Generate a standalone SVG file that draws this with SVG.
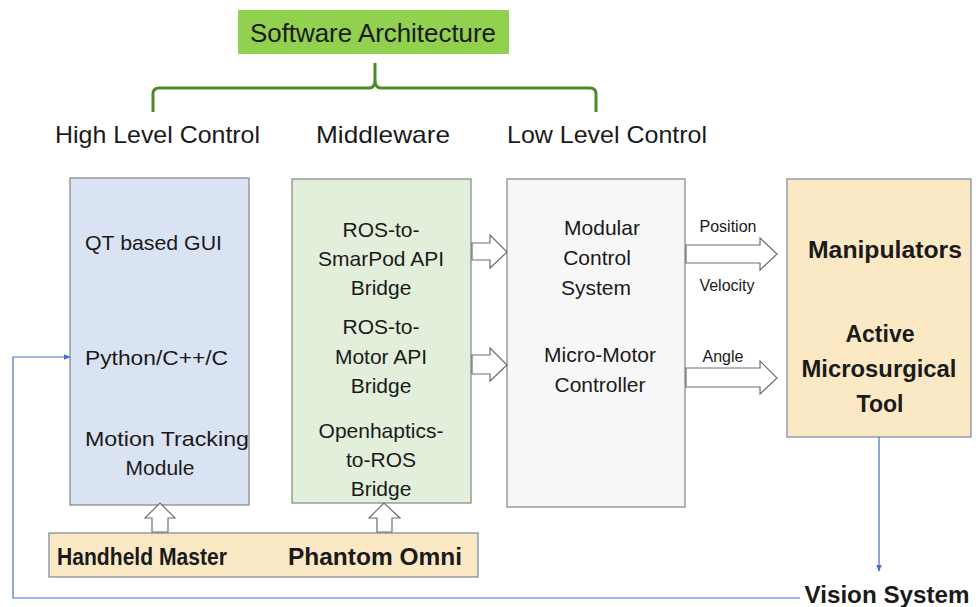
<svg xmlns="http://www.w3.org/2000/svg" width="979" height="607" viewBox="0 0 979 607">
  <style>
    text { font-family: "Liberation Sans", Arial, sans-serif; fill: #1a1a1a; }
    .hdr { font-size: 24px; }
    .lbl { font-size: 21px; text-anchor: middle; }
    .lbl-l { font-size: 21px; }
    .sig { font-size: 16px; text-anchor: middle; }
    .bold { font-size: 23px; font-weight: bold; text-anchor: middle; }
    .box { stroke: #8c8c8c; stroke-width: 1.3; }
    .blk { fill: #ffffff; stroke: #6e6e6e; stroke-width: 1.2; stroke-linejoin: miter; }
    .fb { fill: none; stroke: #4472c4; stroke-width: 1.2; }
  </style>
  <defs>
    <marker id="tip" viewBox="0 0 10 10" refX="9" refY="5" markerWidth="6" markerHeight="6" orient="auto">
      <path d="M0,1 L10,5 L0,9 z" fill="#4472c4"/>
    </marker>
  </defs>

  <rect width="979" height="607" fill="#ffffff"/>

  <!-- title and brace -->
  <g id="title">
    <rect x="238" y="10" width="271" height="44" fill="#92d050"/>
    <text x="373" y="42" font-size="25" text-anchor="middle" textLength="246" lengthAdjust="spacingAndGlyphs">Software Architecture</text>
  </g>
  <path d="M153,112 V94 Q153,88 159,88 H369 Q375,88 375,80 V63 M375,80 Q375,88 381,88 H590 Q596,88 596,94 V112" fill="none" stroke="#4e8a2a" stroke-width="3"/>

  <!-- column headers -->
  <text class="hdr" x="55" y="143" textLength="205" lengthAdjust="spacingAndGlyphs">High Level Control</text>
  <text class="hdr" x="316" y="143" textLength="134" lengthAdjust="spacingAndGlyphs">Middleware</text>
  <text class="hdr" x="507" y="143" textLength="200" lengthAdjust="spacingAndGlyphs">Low Level Control</text>

  <!-- high level control -->
  <g id="high-level">
    <rect class="box" x="70" y="178" width="179" height="327" fill="#dae3f3"/>
    <text class="lbl-l" x="85" y="250" textLength="137" lengthAdjust="spacingAndGlyphs">QT based GUI</text>
    <text class="lbl-l" x="85" y="365" textLength="143" lengthAdjust="spacingAndGlyphs">Python/C++/C</text>
    <text class="lbl" x="167" y="446" textLength="164" lengthAdjust="spacingAndGlyphs">Motion Tracking</text>
    <text class="lbl" x="160" y="475">Module</text>
  </g>

  <!-- middleware -->
  <g id="middleware">
    <rect class="box" x="292" y="179" width="179" height="324" fill="#e2efda"/>
    <text class="lbl" x="381" y="237">ROS-to-</text>
    <text class="lbl" x="381" y="266">SmarPod API</text>
    <text class="lbl" x="381" y="295">Bridge</text>
    <text class="lbl" x="381" y="334">ROS-to-</text>
    <text class="lbl" x="381" y="364">Motor API</text>
    <text class="lbl" x="381" y="393">Bridge</text>
    <text class="lbl" x="381" y="438">Openhaptics-</text>
    <text class="lbl" x="381" y="467">to-ROS</text>
    <text class="lbl" x="381" y="496">Bridge</text>
  </g>

  <!-- low level control -->
  <g id="low-level">
    <rect class="box" x="507" y="179" width="178" height="328" fill="#f7f7f7"/>
    <text class="lbl" x="602" y="235">Modular</text>
    <text class="lbl" x="597" y="265">Control</text>
    <text class="lbl" x="596" y="295">System</text>
    <text class="lbl" x="600" y="362">Micro-Motor</text>
    <text class="lbl" x="600" y="392">Controller</text>
  </g>

  <!-- hardware -->
  <g id="hardware">
    <rect x="787" y="179" width="184" height="258" fill="#fbe8c4" stroke="#7f8fa6" stroke-width="1.3"/>
    <text class="bold" x="885" y="258" textLength="154" lengthAdjust="spacingAndGlyphs">Manipulators</text>
    <text class="bold" x="880" y="342">Active</text>
    <text class="bold" x="879" y="377" textLength="155" lengthAdjust="spacingAndGlyphs">Microsurgical</text>
    <text class="bold" x="880" y="412">Tool</text>
  </g>

  <g id="input-devices">
    <rect x="49" y="533" width="429" height="44" fill="#fbe8c4" stroke="#7f8fa6" stroke-width="1.3"/>
    <text class="bold" x="142" y="565" font-size="22" textLength="170" lengthAdjust="spacingAndGlyphs">Handheld Master</text>
    <text class="bold" x="375" y="565" font-size="22" textLength="174" lengthAdjust="spacingAndGlyphs">Phantom Omni</text>
  </g>

  <g id="vision">
    <text class="bold" x="887" y="603" textLength="165" lengthAdjust="spacingAndGlyphs">Vision System</text>
  </g>

  <!-- connectors -->
  <g id="connectors">
    <!-- middleware to low level -->
    <path class="blk" d="M472,243 H490 V235 L507,252 L490,268 V260 H472 z"/>
    <path class="blk" d="M472,355 H490 V348 L507,365 L490,381 V374 H472 z"/>
    <!-- low level to hardware -->
    <path class="blk" d="M686,245 H760 V238 L777,254 L760,270 V263 H686 z"/>
    <path class="blk" d="M686,368 H760 V361 L777,378 L760,394 V387 H686 z"/>
    <text class="sig" x="728" y="232">Position</text>
    <text class="sig" x="727" y="291">Velocity</text>
    <text class="sig" x="723" y="362">Angle</text>
    <!-- input devices up to control boxes -->
    <path class="blk" d="M152,532 V518 H145 L160,503 L175,518 H168 V532 z"/>
    <path class="blk" d="M377,532 V518 H369 L384,503 L400,518 H392 V532 z"/>
    <!-- vision feedback loop -->
    <path class="fb" d="M879,437 V571" marker-end="url(#tip)"/>
    <path class="fb" d="M800,598 H13 V357 H70" marker-end="url(#tip)"/>
  </g>
</svg>
